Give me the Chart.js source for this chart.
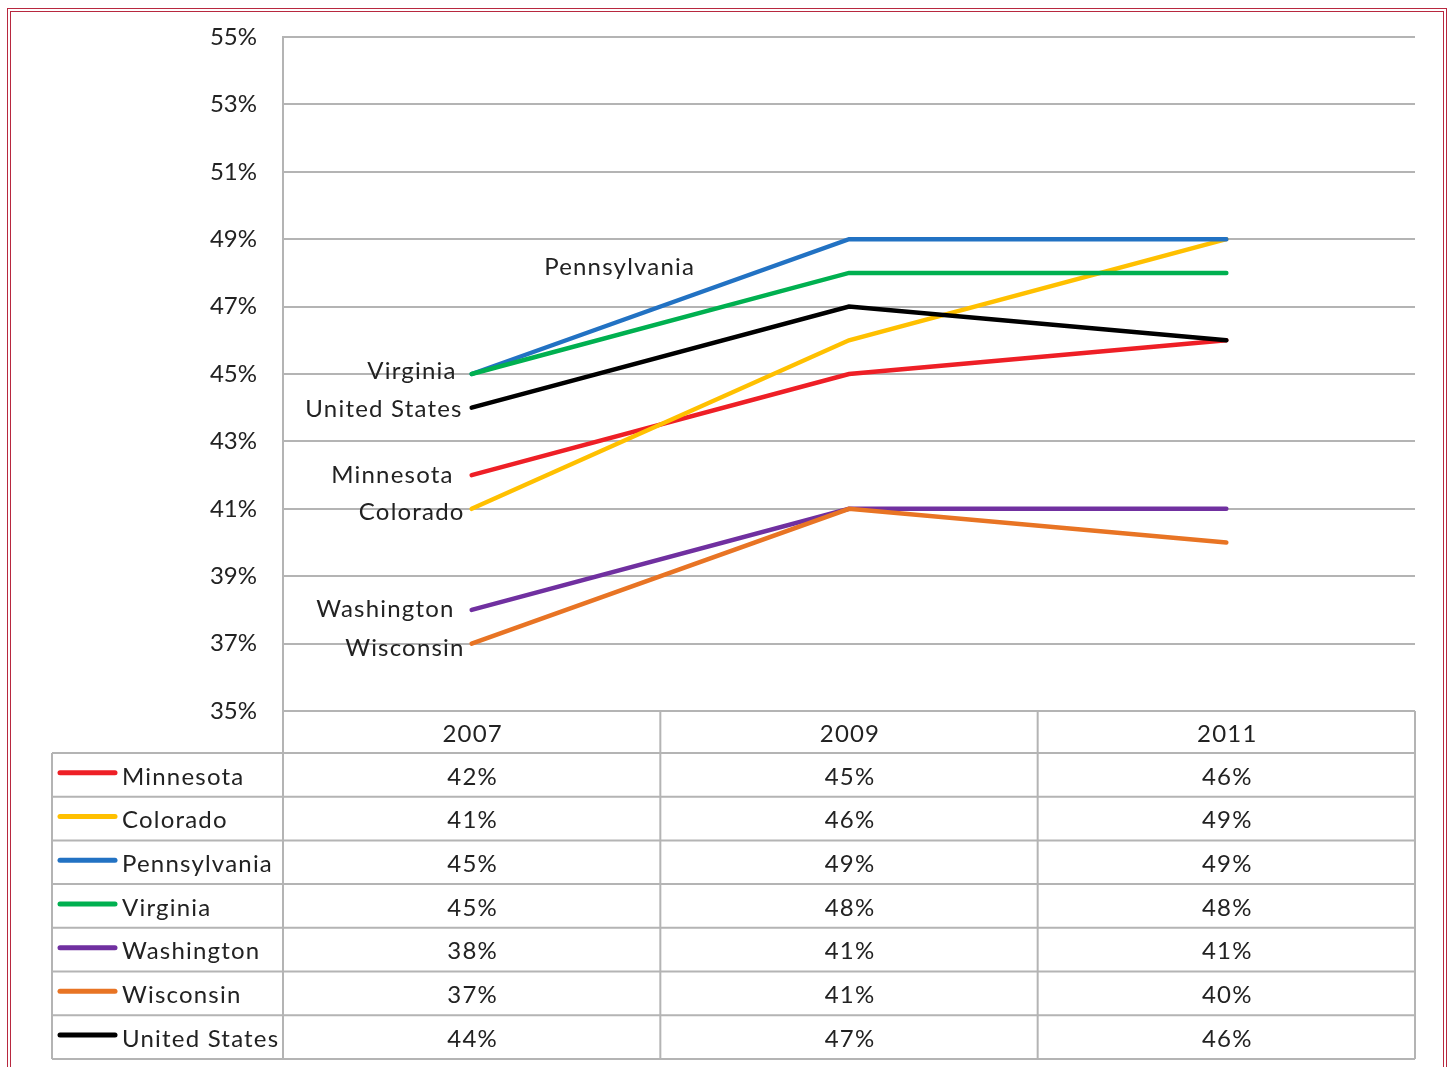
<!DOCTYPE html>
<html>
<head>
<meta charset="utf-8">
<script src="https://cdn.jsdelivr.net/npm/chart.js@4.4.1/dist/chart.umd.min.js"></script>
<style>
html,body{margin:0;padding:0;background:#fff;}
#wrap{position:relative;width:1448px;height:1067px;overflow:hidden;background:#fff;}
#frame{position:absolute;left:7px;top:8px;width:1440px;height:1200px;box-sizing:border-box;border:4px double #b8283f;pointer-events:none;}
canvas{position:absolute;left:0;top:0;}
</style>
</head>
<body>
<div id="wrap"><canvas id="c" width="1448" height="1067"></canvas><div id="frame"></div></div>
<script>
// ---- data ----
const years = ['2007', '2009', '2011'];
const minnesota    = [42, 45, 46];
const colorado     = [41, 46, 49];
const pennsylvania = [45, 49, 49];
const virginia     = [45, 48, 48];
const washington   = [38, 41, 41];
const wisconsin    = [37, 41, 40];
const unitedStates = [44, 47, 46];
const seriesNames  = ['Minnesota', 'Colorado', 'Pennsylvania', 'Virginia', 'Washington', 'Wisconsin', 'United States'];
const seriesValues = [minnesota, colorado, pennsylvania, virginia, washington, wisconsin, unitedStates];
const yMin = 35, yMax = 55, yStep = 2;

// ---- styles ----
const seriesColors = ['#ee1f26', '#ffc000', '#2272c3', '#00b050', '#7030a0', '#e87424', '#000000'];
const FONT = 'Lato, "Liberation Sans", sans-serif';
const TEXT = '#222222';
const GRID = '#b4b4b4';
// label offsets (px) relative to the 2007 point of each series: [dx, dy, align]
const labelStyle = {
  'Virginia':      [-15, -3, 'right'],
  'United States': [-9, 2, 'right'],
  'Minnesota':     [-18, 0, 'right'],
  'Colorado':      [-7, 3, 'right'],
  'Washington':    [-17, -1, 'right'],
  'Wisconsin':     [-7, 5, 'right'],
  'Pennsylvania':  [148, -107, 'center']
};

const tablePlugin = {
  id: 'tablePlugin',
  afterDraw(chart) {
    const ctx = chart.ctx;
    const a = chart.chartArea;
    const xs = chart.scales.x, ys = chart.scales.y;
    const n = years.length;
    const colW = (a.right - a.left) / n;
    const tableLeft = 52;
    const headTop = a.bottom, headBottom = a.bottom + 42;
    const rowH = 43.7;
    const nRows = seriesNames.length;
    const tableBottom = headBottom + rowH * nRows;

    ctx.save();
    ctx.letterSpacing = '1.2px';
    // series labels on the chart
    ctx.font = '24px ' + FONT;
    ctx.fillStyle = TEXT;
    ctx.textBaseline = 'middle';
    seriesNames.forEach((name, i) => {
      const st = labelStyle[name];
      if (!st) return;
      const px = xs.getPixelForValue(0);
      const py = ys.getPixelForValue(seriesValues[i][0]);
      ctx.textAlign = st[2];
      ctx.fillText(name, px + st[0], py + st[1]);
    });

    // table grid
    ctx.strokeStyle = GRID;
    ctx.lineWidth = 2;
    ctx.beginPath();
    ctx.moveTo(a.left, headTop); ctx.lineTo(a.right, headTop);
    for (let r = 0; r <= nRows; r++) {
      const y = headBottom + r * rowH;
      ctx.moveTo(tableLeft, y); ctx.lineTo(a.right, y);
    }
    ctx.moveTo(tableLeft, headBottom); ctx.lineTo(tableLeft, tableBottom);
    for (let c = 0; c <= n; c++) {
      const x = a.left + c * colW;
      ctx.moveTo(x, headTop); ctx.lineTo(x, tableBottom);
    }
    ctx.stroke();

    // header
    ctx.textAlign = 'center';
    ctx.fillStyle = TEXT;
    years.forEach((yr, c) => {
      ctx.fillText(yr, xs.getPixelForValue(c) + 1, (headTop + headBottom) / 2 + 2);
    });
    // rows
    seriesNames.forEach((name, r) => {
      const cy = headBottom + r * rowH + rowH / 2 + 2;
      ctx.strokeStyle = seriesColors[r];
      ctx.lineWidth = 5;
      ctx.lineCap = 'round';
      ctx.beginPath();
      ctx.moveTo(60, cy - 4); ctx.lineTo(115, cy - 4);
      ctx.stroke();
      ctx.textAlign = 'left';
      ctx.fillStyle = TEXT;
      ctx.fillText(name, 122, cy);
      ctx.textAlign = 'center';
      seriesValues[r].forEach((v, c) => {
        ctx.fillText(v + '%', xs.getPixelForValue(c) + 1, cy);
      });
    });
    ctx.restore();
  }
};

new Chart(document.getElementById('c'), {
  type: 'line',
  data: {
    labels: years,
    datasets: seriesNames.map((name, i) => ({
      label: name,
      data: seriesValues[i],
      borderColor: seriesColors[i],
      backgroundColor: seriesColors[i],
      borderWidth: 4.5,
      borderCapStyle: 'round',
      borderJoinStyle: 'miter',
      pointRadius: 0,
      tension: 0,
      fill: false,
      order: seriesNames.length - i
    }))
  },
  options: {
    responsive: false,
    devicePixelRatio: 1,
    animation: false,
    layout: { padding: { left: 0, top: 37, right: 33, bottom: 356 } },
    plugins: { legend: { display: false }, tooltip: { enabled: false } },
    scales: {
      x: { display: false, offset: true },
      y: {
        min: yMin, max: yMax,
        afterFit(scale) { scale.width = 283; scale.paddingTop = 0; scale.paddingBottom = 0; },
        ticks: {
          stepSize: yStep,
          padding: 26,
          color: TEXT,
          font: { family: FONT, size: 24 },
          callback: v => v + '%'
        },
        grid: { color: GRID, lineWidth: 2, drawTicks: false },
        border: { display: true, color: GRID, width: 2 }
      }
    }
  },
  plugins: [tablePlugin]
});
</script>
</body>
</html>
